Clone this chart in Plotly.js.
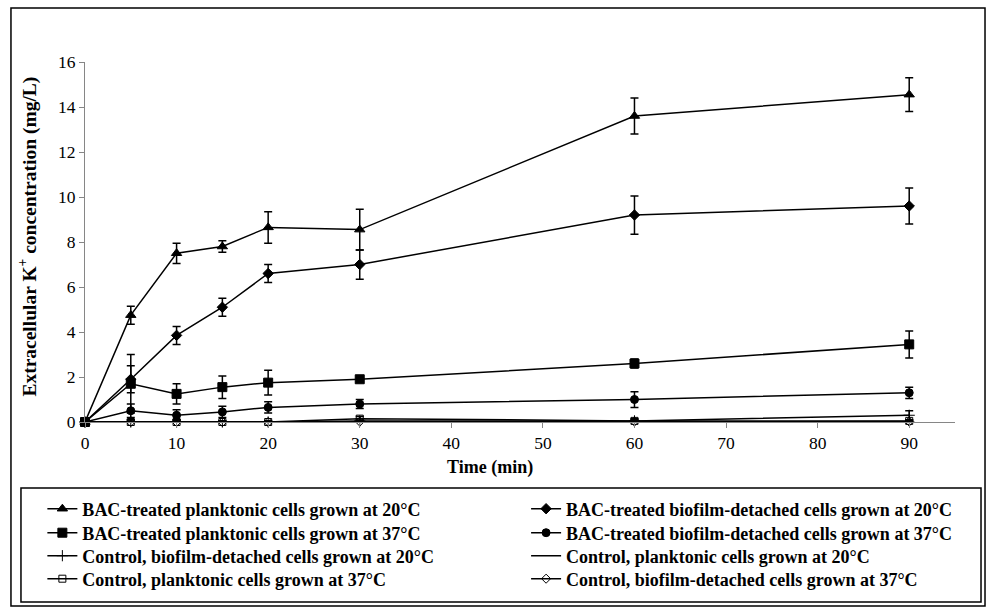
<!DOCTYPE html>
<html>
<head>
<meta charset="utf-8">
<script src="https://cdn.plot.ly/plotly-3.0.1.min.js"></script>
<style>html,body{margin:0;padding:0;background:#fff;}#chart{width:987px;height:609px;}</style>
</head>
<body>
<div id="chart"></div>
<script>
// ---- data ----
const time = [0, 5, 10, 15, 20, 30, 60, 90];
const xTicks = [0, 10, 20, 30, 40, 50, 60, 70, 80, 90];
const yTicks = [0, 2, 4, 6, 8, 10, 12, 14, 16];

const names = [
  "BAC-treated planktonic cells grown at 20°C",
  "BAC-treated biofilm-detached cells grown at 20°C",
  "BAC-treated planktonic cells grown at 37°C",
  "BAC-treated biofilm-detached cells grown at 37°C",
  "Control, biofilm-detached cells grown at 20°C",
  "Control, planktonic cells grown at 20°C",
  "Control, planktonic cells grown at 37°C",
  "Control, biofilm-detached cells grown at 37°C"
];

const bacPlank20 = [0, 4.75, 7.5, 7.8, 8.65, 8.55, 13.6, 14.55];
const bacPlank20Err = [0, 0.4, 0.45, 0.25, 0.7, 0.9, 0.8, 0.75];
const bacBio20 = [0, 1.9, 3.85, 5.1, 6.6, 7.0, 9.2, 9.6];
const bacBio20Err = [0, 0.6, 0.4, 0.4, 0.4, 0.65, 0.85, 0.8];
const bacPlank37 = [0, 1.7, 1.25, 1.55, 1.75, 1.9, 2.6, 3.45];
const bacPlank37Err = [0, 1.3, 0.45, 0.5, 0.55, 0.1, 0.2, 0.6];
const bacBio37 = [0, 0.5, 0.3, 0.45, 0.65, 0.8, 1.0, 1.3];
const bacBio37Err = [0, 0.3, 0.25, 0.25, 0.25, 0.2, 0.35, 0.25];
const ctrlBio20 = [0, 0, 0, 0, 0, 0.05, 0.05, 0.3];
const ctrlBio20Err = [0, 0.1, 0.1, 0.05, 0.05, 0.1, 0.05, 0.2];
const ctrlPlank20 = [0, 0, 0, 0, 0, 0, 0, 0];
const ctrlPlank20Err = [0, 0, 0, 0, 0, 0, 0, 0];
const ctrlPlank37 = [0, 0, 0, 0, 0, 0.15, 0.05, 0.05];
const ctrlPlank37Err = [0, 0.1, 0.1, 0.05, 0.05, 0.1, 0.1, 0.05];
const ctrlBio37 = [0, 0, 0, 0, 0, 0.02, 0.02, 0.02];
const ctrlBio37Err = [0, 0.05, 0.05, 0.05, 0.05, 0.05, 0.05, 0.05];

const series = [bacPlank20, bacBio20, bacPlank37, bacBio37, ctrlBio20, ctrlPlank20, ctrlPlank37, ctrlBio37];
const errors = [bacPlank20Err, bacBio20Err, bacPlank37Err, bacBio37Err, ctrlBio20Err, ctrlPlank20Err, ctrlPlank37Err, ctrlBio37Err];
const symbols = ["triangle-up", "diamond", "square", "circle", "cross-thin-open", "circle", "square-open", "diamond-open"];
const sizes = [9, 8, 9, 8, 8, 1, 7, 7];

const legendIds = ["legend", "legend2", "legend3", "legend4", "legend5", "legend6", "legend7", "legend8"];

const traces = series.map((ys, i) => ({
  x: time, y: ys, name: names[i], type: "scatter",
  mode: i === 5 ? "lines" : "lines+markers",
  legend: legendIds[i],
  line: {color: "#000", width: 1.5},
  marker: {symbol: symbols[i], size: sizes[i], color: "#000", line: {color: "#000", width: 1}},
  error_y: {type: "data", array: errors[i], visible: true, color: "#000", thickness: 1.5, width: 4},
  cliponaxis: false
}));

const F = "Liberation Serif, Times New Roman, serif";
const legFont = {family: F, size: 18, color: "#000", weight: "bold"};

const layout = {
  width: 987, height: 609,
  margin: {l: 85, r: 32, t: 62, b: 187},
  paper_bgcolor: "#fff", plot_bgcolor: "#fff",
  font: {family: F, color: "#000"},
  xaxis: {
    range: [0, 95], tickvals: xTicks, ticktext: xTicks.map(String),
    showgrid: false, zeroline: false, showline: true, linecolor: "#868686", linewidth: 1,
    ticks: "outside", ticklen: 5, tickcolor: "#868686",
    tickfont: {family: F, size: 17.5, color: "#000"}
  },
  yaxis: {
    range: [0, 16], tickvals: yTicks, ticktext: yTicks.map(String),
    showgrid: false, zeroline: false, showline: true, linecolor: "#868686", linewidth: 1,
    ticks: "outside", ticklen: 5, tickcolor: "#868686",
    tickfont: {family: F, size: 17.5, color: "#000"}
  },
  showlegend: true,
  annotations: [
    {text: "Time (min)", xref: "paper", yref: "paper", x: 0.4655, y: -0.125,
     xanchor: "center", yanchor: "middle",
     showarrow: false, font: {family: F, size: 18, color: "#000", weight: "bold"}},
    {text: "Extracellular K<sup>+</sup> concentration (mg/L)", xref: "paper", yref: "paper",
     x: -0.0655, y: 0.515, xanchor: "center", yanchor: "middle", textangle: -90, showarrow: false,
     font: {family: F, size: 19.5, color: "#000", weight: "bold"}}
  ],
  shapes: [
    {type: "rect", xref: "paper", yref: "paper", x0: -0.0851, x1: 1.0345, y0: -0.5111, y1: 1.15,
     line: {color: "#000", width: 1.5}},
    {type: "rect", xref: "paper", yref: "paper", x0: -0.0736, x1: 1.0299, y0: -0.5, y1: -0.1833,
     line: {color: "#000", width: 1.5}}
  ]
};

const rowY = [-0.2417, -0.3083, -0.3722, -0.4361];
const colX = [-0.049, 0.507];
legendIds.forEach((id, i) => {
  layout[id] = {
    x: colX[i % 2], xanchor: "left",
    y: rowY[Math.floor(i / 2)], yanchor: "middle",
    orientation: "v", font: legFont, bgcolor: "rgba(0,0,0,0)", borderwidth: 0
  };
});

Plotly.newPlot("chart", traces, layout, {displayModeBar: false, staticPlot: true});
</script>
</body>
</html>
